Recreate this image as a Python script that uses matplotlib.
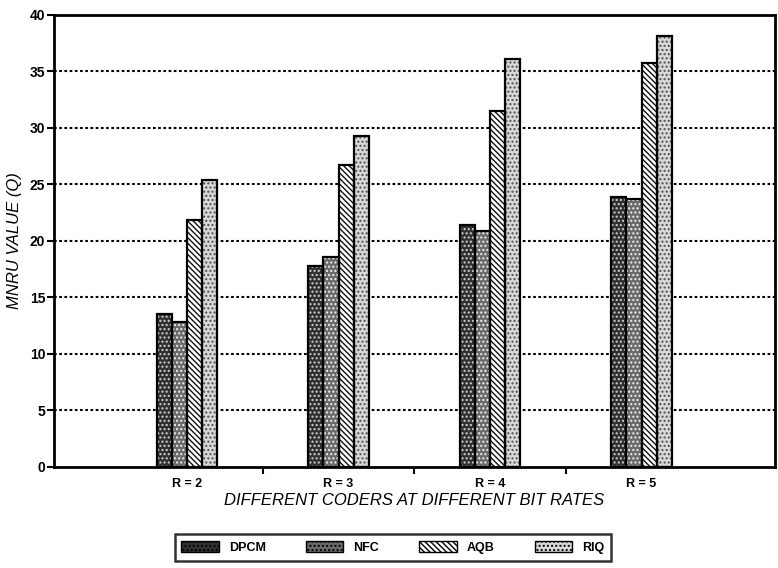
import numpy as np
import matplotlib
matplotlib.use("Agg")
import matplotlib.pyplot as plt
from matplotlib.patches import Patch

groups = ["R = 2", "R = 3", "R = 4", "R = 5"]
coders = ["DPCM", "NFC", "AQB", "RIQ"]
dpcm = [13.5, 17.8, 21.4, 23.9]
nfc = [12.8, 18.6, 20.9, 23.7]
aqb = [21.8, 26.7, 31.5, 35.7]
riq = [25.4, 29.3, 36.1, 38.1]

# face colour, hatch colour, hatch pattern for each coder
styles = [
    ("#303030", "#d0d0d0", "...."),
    ("#6a6a6a", "#f0f0f0", "...."),
    ("#ffffff", "#111111", "\\\\\\\\\\\\"),
    ("#d8d8d8", "#505050", "...."),
]

plt.rcParams["font.family"] = ["Liberation Sans", "DejaVu Sans"]
plt.rcParams["hatch.linewidth"] = 1.0

fig = plt.figure(figsize=(7.78, 5.68), dpi=100)
ax = fig.add_axes([0.069, 0.178, 0.927, 0.796])

x = np.arange(1, len(groups) + 1)
w = 0.1
series = [dpcm, nfc, aqb, riq]
for i, vals in enumerate(series):
    pos = x + (i - 1.5) * w
    fc, hc, hp = styles[i]
    ax.bar(pos, vals, w, color=fc, edgecolor=hc, linewidth=0, hatch=hp, zorder=3)
    ax.bar(pos, vals, w, fill=False, edgecolor="black", linewidth=1.6, zorder=4)

ax.set_xlim(0.12, 4.88)
ax.set_ylim(0, 40)
ax.set_yticks(range(0, 41, 5))
ax.set_xticks(x)
ax.set_xticklabels(groups, fontsize=9, fontweight="bold")
ax.set_xticks([1.5, 2.5, 3.5], minor=True)
ax.tick_params(axis="x", which="major", length=0, pad=8)
ax.tick_params(axis="x", which="minor", length=5, width=1.5, direction="out")
ax.tick_params(axis="y", length=5, width=1.5, labelsize=10, pad=1)
for lab in ax.get_yticklabels():
    lab.set_fontweight("bold")

for yv in range(5, 40, 5):
    ax.axhline(yv, color="black", linestyle=(0, (1.3, 1.2)), linewidth=1.5, zorder=1)

for sp in ax.spines.values():
    sp.set_linewidth(2)

ax.set_ylabel("MNRU VALUE (Q)", fontsize=12, style="italic", labelpad=6)
ax.set_xlabel("DIFFERENT CODERS AT DIFFERENT BIT RATES", fontsize=12, style="italic", labelpad=2)

handles = [Patch(facecolor=s[0], edgecolor="black", hatch=s[2], linewidth=1) for s in styles]
leg = fig.legend(handles, coders, loc="center", bbox_to_anchor=(0.505, 0.036), ncol=4,
                 frameon=True, fancybox=False, edgecolor="black",
                 handlelength=3.0, handleheight=1.0, columnspacing=3.2, borderpad=0.55,
                 prop={"weight": "bold", "size": 9})
leg.get_frame().set_linewidth(1.8)

fig.savefig("out.png", dpi=100)
